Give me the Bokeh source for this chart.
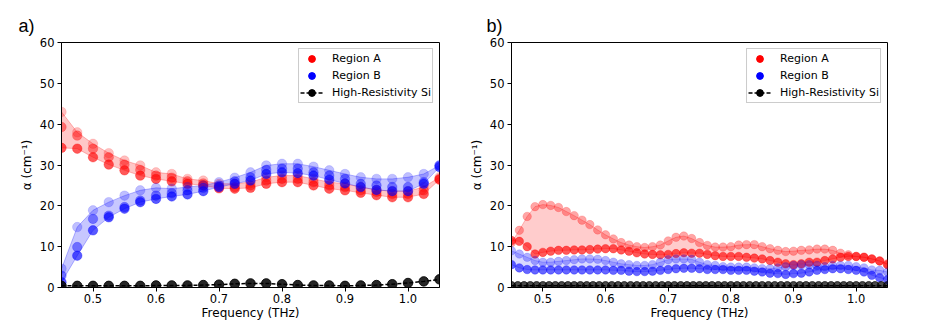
from bokeh.plotting import figure
from bokeh.models import Range1d, FixedTicker, PrintfTickFormatter, Legend, LegendItem
from bokeh.layouts import row
from bokeh.embed import file_html
from bokeh.resources import INLINE

# ---------------- data ----------------
x_ticks = [0.5, 0.6, 0.7, 0.8, 0.9, 1.0]
y_ticks = [0, 10, 20, 30, 40, 50, 60]

# panel a
freq_a = [0.45, 0.475, 0.5, 0.525, 0.55, 0.575, 0.6, 0.625, 0.65, 0.675, 0.7, 0.725, 0.75,
          0.775, 0.8, 0.825, 0.85, 0.875, 0.9, 0.925, 0.95, 0.975, 1.0, 1.025, 1.05]
red_a_hi = [43.0, 38.0, 35.2, 32.9, 31.1, 29.9, 28.2, 27.8, 26.6, 26.2, 25.4, 25.4, 25.8,
            27.0, 27.4, 27.4, 26.6, 25.8, 25.4, 24.6, 23.9, 23.6, 23.6, 24.6, 27.0]
red_a_mid = [39.3, 37.2, 34.0, 31.9, 30.1, 28.8, 27.4, 26.9, 26.0, 25.5, 24.7, 24.6, 25.0,
             26.2, 26.6, 26.6, 25.8, 25.0, 24.6, 23.8, 23.4, 22.9, 22.9, 23.8, 26.6]
red_a_lo = [34.2, 34.0, 31.9, 30.1, 28.7, 27.4, 26.6, 26.0, 25.4, 25.0, 24.3, 24.2, 24.4,
            25.4, 25.8, 25.8, 25.0, 24.2, 23.8, 23.2, 22.6, 22.1, 22.1, 22.9, 26.4]
blue_a_hi = [4.6, 14.8, 18.9, 20.9, 22.5, 23.8, 24.4, 24.2, 24.6, 25.0, 25.8, 26.9, 28.2,
             29.9, 30.3, 30.3, 29.6, 28.7, 27.8, 27.0, 26.6, 26.6, 27.0, 27.8, 29.9]
blue_a_mid = [2.9, 9.9, 16.8, 17.6, 19.7, 21.3, 22.5, 23.1, 23.8, 24.4, 25.0, 26.0, 27.0,
              28.8, 29.1, 29.1, 28.2, 27.4, 26.6, 25.4, 25.0, 24.6, 24.6, 25.8, 29.9]
blue_a_lo = [1.3, 7.8, 14.0, 17.2, 19.3, 20.9, 21.7, 22.3, 22.8, 23.6, 24.6, 25.4, 26.2,
             27.8, 28.2, 28.0, 27.4, 26.4, 25.5, 24.6, 23.9, 23.6, 23.6, 25.4, 29.5]
si_a = [0.4, 0.4, 0.4, 0.4, 0.4, 0.4, 0.5, 0.5, 0.5, 0.6, 0.7, 0.9, 1.0,
        1.0, 0.8, 0.6, 0.5, 0.5, 0.4, 0.5, 0.6, 0.8, 1.1, 1.5, 2.0]

# panel b
freq_b = [0.45, 0.4625, 0.475, 0.4875, 0.5, 0.5125, 0.525, 0.5375, 0.55, 0.5625,
          0.575, 0.5875, 0.6, 0.6125, 0.625, 0.6375, 0.65, 0.6625, 0.675, 0.6875,
          0.7, 0.7125, 0.725, 0.7375, 0.75, 0.7625, 0.775, 0.7875, 0.8, 0.8125,
          0.825, 0.8375, 0.85, 0.8625, 0.875, 0.8875, 0.9, 0.9125, 0.925, 0.9375,
          0.95, 0.9625, 0.975, 0.9875, 1.0, 1.0125, 1.025, 1.0375, 1.05]
red_b_hi = [11.0, 14.0, 17.4, 19.8, 20.3, 20.1, 19.6, 18.6, 17.6, 16.5,
            15.4, 14.1, 12.9, 11.9, 11.0, 10.4, 10.0, 9.8, 10.0, 10.4,
            11.4, 12.3, 12.6, 12.0, 11.0, 10.3, 9.9, 9.9, 10.0, 10.4,
            10.5, 10.5, 10.0, 9.5, 9.1, 8.8, 8.9, 9.1, 9.2, 9.4,
            9.4, 9.1, 8.4, 8.0, 7.6, 7.4, 7.0, 6.5, 5.8]
red_b_lo = [11.5, 11.3, 10.0, 8.2, 8.6, 8.9, 9.1, 9.1, 9.2, 9.2,
            9.3, 9.4, 9.5, 9.5, 9.2, 8.9, 8.5, 8.2, 8.1, 8.0,
            8.1, 8.3, 8.5, 8.4, 8.4, 8.1, 7.8, 7.6, 7.6, 7.6,
            7.4, 7.2, 7.0, 6.6, 6.2, 5.8, 5.6, 5.8, 6.2, 6.2,
            6.6, 7.0, 7.4, 7.6, 7.6, 7.4, 7.0, 6.5, 5.6]
blue_b_hi = [9.0, 8.2, 7.4, 6.6, 6.2, 6.2, 6.4, 6.6, 6.8, 7.0,
             7.0, 6.9, 6.6, 6.2, 5.8, 5.6, 5.4, 5.4, 5.6, 6.2,
             6.8, 7.0, 7.0, 6.9, 6.2, 5.6, 5.4, 5.1, 5.0, 5.0,
             5.0, 4.8, 4.6, 4.6, 4.8, 5.1, 5.4, 5.6, 5.6, 5.4,
             5.1, 5.4, 5.4, 5.4, 5.1, 4.8, 4.3, 4.2, 3.8]
blue_b_lo = [5.6, 4.8, 4.4, 4.3, 4.3, 4.3, 4.3, 4.3, 4.3, 4.3,
             4.3, 4.3, 4.3, 4.2, 4.2, 4.0, 3.9, 3.9, 4.0, 4.2,
             4.4, 4.6, 4.7, 4.7, 4.6, 4.4, 4.4, 4.4, 4.2, 4.2,
             4.2, 4.0, 3.8, 3.5, 3.4, 3.2, 3.4, 3.5, 3.8, 4.2,
             4.4, 4.6, 4.6, 4.4, 4.2, 3.8, 3.0, 2.4, 1.9]
freq_si_b = [0.45, 0.46, 0.47, 0.48, 0.49, 0.5, 0.51, 0.52, 0.53, 0.54,
             0.55, 0.56, 0.57, 0.58, 0.59, 0.6, 0.61, 0.62, 0.63, 0.64,
             0.65, 0.66, 0.67, 0.68, 0.69, 0.7, 0.71, 0.72, 0.73, 0.74,
             0.75, 0.76, 0.77, 0.78, 0.79, 0.8, 0.81, 0.82, 0.83, 0.84,
             0.85, 0.86, 0.87, 0.88, 0.89, 0.9, 0.91, 0.92, 0.93, 0.94,
             0.95, 0.96, 0.97, 0.98, 0.99, 1.0, 1.01, 1.02, 1.03, 1.04, 1.05]
si_b = [0.4, 0.4, 0.4, 0.4, 0.4, 0.4, 0.4, 0.4, 0.4, 0.4,
        0.4, 0.4, 0.4, 0.4, 0.4, 0.4, 0.4, 0.4, 0.4, 0.4,
        0.4, 0.4, 0.4, 0.4, 0.4, 0.4, 0.4, 0.4, 0.4, 0.4,
        0.4, 0.4, 0.4, 0.4, 0.4, 0.4, 0.4, 0.4, 0.4, 0.4,
        0.4, 0.4, 0.4, 0.4, 0.4, 0.4, 0.4, 0.4, 0.4, 0.4,
        0.4, 0.4, 0.4, 0.4, 0.4, 0.4, 0.4, 0.4, 0.4, 0.4, 0.4]

RED = "#ff0000"
BLUE = "#0000ff"
FONT = "DejaVu Sans"


def base_figure(letter, width, b_left, b_right):
    p = figure(width=width, height=322, x_range=Range1d(0.45, 1.05), y_range=Range1d(0, 60),
               output_backend="svg", toolbar_location=None,
               min_border_left=b_left, min_border_right=b_right,
               min_border_top=42, min_border_bottom=35, title=letter)
    p.title.align = "left"
    p.title.offset = -(b_left - 18)
    p.title.standoff = 14
    p.title.text_font = "Liberation Sans"
    p.title.text_font_size = "18px"
    p.title.text_font_style = "normal"
    p.title.text_color = "black"
    p.xgrid.visible = False
    p.ygrid.visible = False
    p.outline_line_color = "black"
    p.outline_line_alpha = 1
    p.background_fill_color = "white"
    p.border_fill_color = "white"
    p.xaxis.ticker = FixedTicker(ticks=x_ticks)
    p.xaxis.formatter = PrintfTickFormatter(format="%.1f")
    p.yaxis.ticker = FixedTicker(ticks=y_ticks)
    p.xaxis.axis_label = "Frequency (THz)"
    p.yaxis.axis_label = "α (cm⁻¹)"
    for ax in (p.xaxis[0], p.yaxis[0]):
        ax.major_tick_in = 0
        ax.major_tick_out = 4
        ax.minor_tick_in = 0
        ax.minor_tick_out = 0
        ax.major_label_text_font = FONT
        ax.major_label_text_font_size = "11.5px"
        ax.major_label_text_color = "black"
        ax.axis_label_text_font = FONT
        ax.axis_label_text_font_size = "12px"
        ax.axis_label_text_font_style = "normal"
        ax.axis_label_text_color = "black"
        ax.axis_line_color = "black"
    p.xaxis.major_label_standoff = 2
    p.xaxis.axis_label_standoff = 0
    p.yaxis.major_label_standoff = 3
    p.yaxis.axis_label_standoff = 3
    return p


def band(p, x, lo, hi, color, alpha):
    p.varea(x=x, y1=lo, y2=hi, fill_color=color, fill_alpha=alpha)
    p.line(x=x, y=hi, line_color=color, line_alpha=alpha + 0.05, line_width=1)
    p.line(x=x, y=lo, line_color=color, line_alpha=alpha + 0.05, line_width=1)


def pts(p, x, y, color, alpha, size):
    p.scatter(x=x, y=y, size=size, fill_color=color, fill_alpha=alpha,
              line_color=color, line_alpha=alpha, line_width=0.5)


def add_legend(p, x, ya, yb, si_x, si_y, si_line):
    # invisible renderers, only used to draw opaque legend glyphs
    la = p.scatter(x=x, y=ya, fill_color=RED, line_color=RED, visible=False)
    lb = p.scatter(x=x, y=yb, fill_color=BLUE, line_color=BLUE, visible=False)
    ls = p.scatter(x=si_x, y=si_y, fill_color="black", line_color="black", visible=False)
    leg = Legend(items=[LegendItem(label="Region A", renderers=[la]),
                        LegendItem(label="Region B", renderers=[lb]),
                        LegendItem(label="High-Resistivity Si", renderers=[si_line, ls])],
                 location="top_right", margin=6, padding=1, spacing=0,
                 label_height=17, glyph_height=17, glyph_width=23, label_standoff=9,
                 label_text_font=FONT, label_text_font_size="11px",
                 label_text_color="black",
                 border_line_color="#cccccc", border_line_alpha=1,
                 background_fill_color="white", background_fill_alpha=0.8)
    p.add_layout(leg)


# ---------------- panel a ----------------
pa = base_figure("a)", 466, 61, 27)
band(pa, freq_a, red_a_lo, red_a_hi, RED, 0.22)
band(pa, freq_a, blue_a_lo, blue_a_hi, BLUE, 0.22)
S = 9.5
pts(pa, freq_a, red_a_hi, RED, 0.25, S)
pts(pa, freq_a, red_a_mid, RED, 0.45, S)
pts(pa, freq_a, red_a_lo, RED, 0.65, S)
pts(pa, freq_a, blue_a_hi, BLUE, 0.25, S)
pts(pa, freq_a, blue_a_mid, BLUE, 0.45, S)
pts(pa, freq_a, blue_a_lo, BLUE, 0.65, S)
si_line_a = pa.line(x=freq_a, y=si_a, line_color="black", line_width=1.5, line_dash="4 2")
pa.scatter(x=freq_a, y=si_a, size=S, fill_color="black", line_color="black",
           fill_alpha=0.85, line_alpha=0.85)
add_legend(pa, freq_a, red_a_lo, blue_a_lo, freq_a, si_a, si_line_a)

# ---------------- panel b ----------------
pb = base_figure("b)", 462, 43, 41)
band(pb, freq_b, red_b_lo, red_b_hi, RED, 0.2)
band(pb, freq_b, blue_b_lo, blue_b_hi, BLUE, 0.15)
Sb = 8.5
pts(pb, freq_b, red_b_hi, RED, 0.35, Sb)
pts(pb, freq_b, red_b_lo, RED, 0.65, Sb)
pts(pb, freq_b, blue_b_hi, BLUE, 0.3, Sb)
pts(pb, freq_b, blue_b_lo, BLUE, 0.6, Sb)
si_line_b = pb.line(x=freq_si_b, y=si_b, line_color="black", line_width=1.5, line_dash="4 2")
pb.scatter(x=freq_si_b, y=si_b, size=Sb, fill_color="black", line_color="black",
           fill_alpha=0.7, line_alpha=0.7)
add_legend(pb, freq_b, red_b_lo, blue_b_lo, freq_si_b, si_b, si_line_b)

layout = row(pa, pb)
open("out.html", "w").write(file_html(layout, INLINE))
